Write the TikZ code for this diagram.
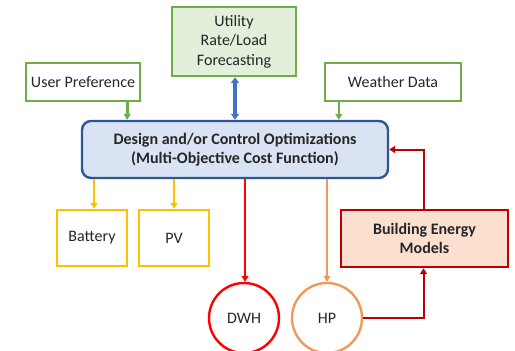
\documentclass[tikz,border=0pt]{standalone}
\usepackage{fontspec}
\setmainfont{Carlito}
\usepackage{tikz}
\usetikzlibrary{arrows.meta}
\usetikzlibrary{calc}

\definecolor{grnline}{HTML}{70AD47}
\definecolor{grnfill}{HTML}{E2EFDA}
\definecolor{blueline}{HTML}{2F5597}
\definecolor{bluefill}{HTML}{DAE3F3}
\definecolor{bluearr}{HTML}{4472C4}
\definecolor{yelline}{HTML}{FFC000}
\definecolor{redline}{HTML}{FF0000}
\definecolor{orgline}{HTML}{EE9A5A}
\definecolor{bemline}{HTML}{C00000}
\definecolor{bemfill}{HTML}{FBE0D0}

\tikzset{
  box/.style={rectangle, line width=2.4pt, align=center, inner sep=2pt,
    font=\fontsize{16}{19.5}\selectfont, text=black!85},
  tank/.style={circle, line width=2.4pt, minimum size=70pt, inner sep=0pt,
    font=\fontsize{16}{19.5}\selectfont, text=black!85},
  tip/.style={-{Triangle[length=6pt,width=7pt]}},
}

\begin{document}
\begin{tikzpicture}[x=1pt, y=-1pt]
\useasboundingbox (0,0) rectangle (515,351);

% First, define nodes
\draw (234,41.5) node[box, draw=grnline, fill=grnfill, minimum width=124pt, minimum height=69pt] (util) {Utility\\Rate/Load\\Forecasting};
\draw (83,82) node[box, draw=grnline, minimum width=114pt, minimum height=38pt] (pref) {User Preference};
\draw (393,82) node[box, draw=grnline, minimum width=136pt, minimum height=38pt] (wthr) {Weather Data};
\draw (235,149.5) node[box, draw=blueline, fill=bluefill, rounded corners=9pt, minimum width=306pt, minimum height=57pt, font=\fontsize{16}{19.5}\selectfont\bfseries] (opt) {Design and/or Control Optimizations\\(Multi-Objective Cost Function)};
\draw (92,238) node[box, draw=yelline, minimum width=70pt, minimum height=56pt] (batt) {Battery};
\draw (174,238) node[box, draw=yelline, minimum width=70pt, minimum height=56pt] (pv) {PV};
\draw (424.5,238.5) node[box, draw=bemline, fill=bemfill, minimum width=167pt, minimum height=57pt, font=\fontsize{16}{19.5}\selectfont\bfseries] (bem) {Building Energy\\Models};
\draw (244,318) node[tank, draw=redline] (dwh) {DWH};
\draw (327,318) node[tank, draw=orgline] (hp) {HP};

% Inputs to the optimization
\draw[tip, grnline, line width=2.6pt] ([xshift=-14pt]pref.south east) -- ([xshift=-14pt]pref.south east |- opt.north);
\draw[tip, grnline, line width=2.6pt] ([xshift=15pt]wthr.south west) -- ([xshift=15pt]wthr.south west |- opt.north);
\draw[{Triangle[length=6pt,width=8pt]}-{Triangle[length=6pt,width=8pt]}, bluearr, line width=3.2pt] ([xshift=1pt]util.south) -- ([xshift=1pt]util.south |- opt.north);

% Outputs of the optimization
\draw[tip, yelline, line width=2pt] ([xshift=2pt]batt.north |- opt.south) -- ([xshift=2pt]batt.north);
\draw[tip, yelline, line width=2pt] (pv.north |- opt.south) -- (pv.north);
\draw[tip, redline, line width=2pt] ([xshift=1pt]dwh.north |- opt.south) -- ([xshift=1pt]dwh.north);
\draw[tip, orgline, line width=2pt] (hp.north |- opt.south) -- (hp.north);

% Feedback loop through the building models
\draw[tip, bemline, line width=2pt] (hp.east) -| ([xshift=-1pt]bem.south);
\draw[tip, bemline, line width=2pt] ([xshift=-1pt]bem.north) |- (opt.east);
\end{tikzpicture}
\end{document}
